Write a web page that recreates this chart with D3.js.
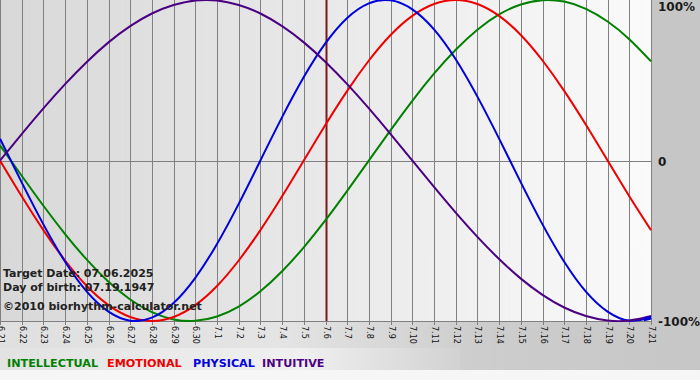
<!DOCTYPE html>
<html>
<head>
<meta charset="utf-8">
<script src="https://cdn.jsdelivr.net/npm/d3@7"></script>
<style>
  html, body { margin: 0; padding: 0; background: #f6f6f6; }
  svg { display: block; }
</style>
</head>
<body>
<svg id="chart" width="700" height="380"></svg>
<script>
// ---- data ----
const dayLabels = ["6.21","6.22","6.23","6.24","6.25","6.26","6.27","6.28","6.29","6.30",
  "7.1","7.2","7.3","7.4","7.5","7.6","7.7","7.8","7.9","7.10","7.11","7.12","7.13",
  "7.14","7.15","7.16","7.17","7.18","7.19","7.20","7.21"];
const targetLabel = "7.6";
const physical = [0.136,-0.136,-0.398,-0.631,-0.817,-0.942,-0.998,-0.979,-0.888,-0.731,-0.520,
  -0.270,0,0.270,0.520,0.731,0.888,0.979,0.998,0.942,0.817,0.631,0.398,0.136,-0.136,-0.398,
  -0.631,-0.817,-0.942,-0.998,-0.979];
const emotional = [0,-0.223,-0.434,-0.623,-0.782,-0.901,-0.975,-1,-0.975,-0.901,-0.782,-0.623,
  -0.434,-0.223,0,0.223,0.434,0.623,0.782,0.901,0.975,1,0.975,0.901,0.782,0.623,0.434,0.223,
  0,-0.223,-0.434];
const intellectual = [0.095,-0.095,-0.282,-0.458,-0.618,-0.756,-0.866,-0.945,-0.990,-0.999,
  -0.972,-0.910,-0.815,-0.690,-0.541,-0.372,-0.189,0,0.189,0.372,0.541,0.690,0.815,0.910,
  0.972,0.999,0.990,0.945,0.866,0.756,0.618];
const intuitive = [0,0.165,0.325,0.476,0.614,0.736,0.837,0.916,0.969,0.997,0.997,0.969,0.916,
  0.837,0.736,0.614,0.476,0.325,0.165,0,-0.165,-0.325,-0.476,-0.614,-0.736,-0.837,-0.916,
  -0.969,-0.997,-0.997,-0.969];
const yTickValues = [1, 0, -1];
const yTickLabels = ["100%", "0", "-100%"];
const infoLines = ["Target Date: 07.06.2025", "Day of birth: 07.19.1947", "\u00A92010 biorhythm-calculator.net"];
const legendNames = ["INTELLECTUAL", "EMOTIONAL", "PHYSICAL", "INTUITIVE"];

// ---- layout ----
const W = 700, H = 380;
const plotL = 0, plotR = 651, plotT = 0, plotB = 321;
const colors = { INTELLECTUAL: "#008000", EMOTIONAL: "#ee0000", PHYSICAL: "#0000dd", INTUITIVE: "#4b0082" };
const seriesList = [
  { name: "INTELLECTUAL", values: intellectual },
  { name: "EMOTIONAL", values: emotional },
  { name: "PHYSICAL", values: physical },
  { name: "INTUITIVE", values: intuitive }
];

const svg = d3.select("#chart");
const defs = svg.append("defs");

const gPlot = defs.append("linearGradient").attr("id", "plotBg")
  .attr("x1", "0%").attr("x2", "100%").attr("y1", "0%").attr("y2", "0%");
gPlot.append("stop").attr("offset", "0%").attr("stop-color", "#d8d8d8");
gPlot.append("stop").attr("offset", "100%").attr("stop-color", "#fafafa");

const gBot = defs.append("linearGradient").attr("id", "botBg")
  .attr("x1", "0%").attr("x2", "100%").attr("y1", "0%").attr("y2", "0%");
gBot.append("stop").attr("offset", "0%").attr("stop-color", "#e0e0e0");
gBot.append("stop").attr("offset", "40%").attr("stop-color", "#e4e4e4");
gBot.append("stop").attr("offset", "68%").attr("stop-color", "#cdcdcd");
gBot.append("stop").attr("offset", "100%").attr("stop-color", "#c6c6c6");

const gLeg = defs.append("linearGradient").attr("id", "legBg")
  .attr("x1", "0%").attr("x2", "100%").attr("y1", "0%").attr("y2", "0%");
gLeg.append("stop").attr("offset", "0%").attr("stop-color", "#e2e2e2");
gLeg.append("stop").attr("offset", "65%").attr("stop-color", "#f0f0f0");
gLeg.append("stop").attr("offset", "100%").attr("stop-color", "#d2d2d2");

defs.append("clipPath").attr("id", "plotClip").append("rect")
  .attr("x", plotL).attr("y", plotT).attr("width", plotR - plotL + 2).attr("height", plotB - plotT + 1);
defs.append("clipPath").attr("id", "endClip").append("rect")
  .attr("x", plotR - 7).attr("y", plotT).attr("width", 9).attr("height", plotB - plotT + 1);

// backgrounds
svg.append("rect").attr("x", 0).attr("y", 0).attr("width", W).attr("height", 370).attr("fill", "#c6c6c6");
svg.append("rect").attr("x", 0).attr("y", plotB).attr("width", W).attr("height", 370 - plotB).attr("fill", "url(#botBg)");
svg.append("rect").attr("x", 0).attr("y", 348).attr("width", 460).attr("height", 22).attr("fill", "url(#legBg)");
svg.append("rect").attr("x", 0).attr("y", 370).attr("width", W).attr("height", 10).attr("fill", "#f6f6f6");
svg.append("rect").attr("x", plotL).attr("y", plotT).attr("width", plotR - plotL).attr("height", plotB - plotT)
  .attr("fill", "url(#plotBg)");

// scales
const x = d3.scalePoint().domain(dayLabels).range([plotL, plotR]);
const y = d3.scaleLinear().domain([-1, 1]).range([plotB, plotT]);
const crisp = v => Math.round(v) + 0.5;

// bottom axis labels via d3.axisBottom
const xAxis = d3.axisBottom(x).tickSize(0).tickPadding(0);
const gx = svg.append("g").attr("transform", `translate(0,${plotB})`).call(xAxis);
gx.select(".domain").remove();
gx.selectAll(".tick").attr("transform", d => `translate(${crisp(x(d))},0)`);
gx.selectAll(".tick text")
  .attr("transform", "rotate(90)")
  .attr("x", 5).attr("y", 0).attr("dy", "0.35em")
  .attr("text-anchor", "start")
  .style("font-family", "'DejaVu Sans', Verdana, sans-serif")
  .style("font-size", "8px")
  .attr("fill", "#111");

// vertical grid
svg.append("g").selectAll("line").data(dayLabels).join("line")
  .attr("x1", d => crisp(x(d))).attr("x2", d => crisp(x(d)))
  .attr("y1", plotT).attr("y2", plotB + 4)
  .attr("stroke", "#808080").attr("stroke-width", 1);

// horizontal lines at 0 and -100%
svg.append("g").selectAll("line").data([0, -1]).join("line")
  .attr("x1", plotL).attr("x2", plotR + 1)
  .attr("y1", d => crisp(y(d))).attr("y2", d => crisp(y(d)))
  .attr("stroke", "#808080").attr("stroke-width", 1);

// right labels
svg.append("g").selectAll("text").data(yTickValues).join("text")
  .attr("x", 658)
  .attr("y", (d, i) => i === 0 ? 11 : (i === 1 ? 166 : 326))
  .text((d, i) => yTickLabels[i])
  .style("font-family", "'DejaVu Sans', Verdana, sans-serif")
  .style("font-size", "12px").style("font-weight", "bold")
  .attr("fill", "#1a1a1a");

// target date line
svg.append("line")
  .attr("x1", crisp(x(targetLabel))).attr("x2", crisp(x(targetLabel)))
  .attr("y1", plotT).attr("y2", plotB)
  .attr("stroke", "#7a1a1a").attr("stroke-width", 2);

// curves
const line = d3.line()
  .x((d, i) => x(dayLabels[i]))
  .y(d => y(d))
  .curve(d3.curveNatural);
svg.append("g").attr("clip-path", "url(#plotClip)")
  .selectAll("path").data(seriesList).join("path")
  .attr("d", s => line(s.values))
  .attr("fill", "none")
  .attr("stroke", s => colors[s.name])
  .attr("stroke-width", 2)
  .attr("stroke-linejoin", "round");

// thicker end of the physical curve at the right edge
svg.append("path").attr("clip-path", "url(#endClip)")
  .attr("d", line(physical))
  .attr("fill", "none")
  .attr("stroke", colors.PHYSICAL)
  .attr("stroke-width", 4);

// info text
svg.append("g").selectAll("text").data(infoLines).join("text")
  .attr("x", 3)
  .attr("y", (d, i) => [277, 290.5, 310][i])
  .text(d => d)
  .style("font-family", "'DejaVu Sans', Verdana, sans-serif")
  .style("font-size", "11px").style("font-weight", "bold")
  .attr("fill", "#222");

// legend
const legX = [7, 107, 193, 262];
svg.append("g").selectAll("text").data(legendNames).join("text")
  .attr("x", (d, i) => legX[i]).attr("y", 366.5)
  .text(d => d)
  .style("font-family", "'DejaVu Sans', Verdana, sans-serif")
  .style("font-size", "11.2px").style("font-weight", "bold")
  .attr("fill", d => colors[d]);
</script>
</body>
</html>
